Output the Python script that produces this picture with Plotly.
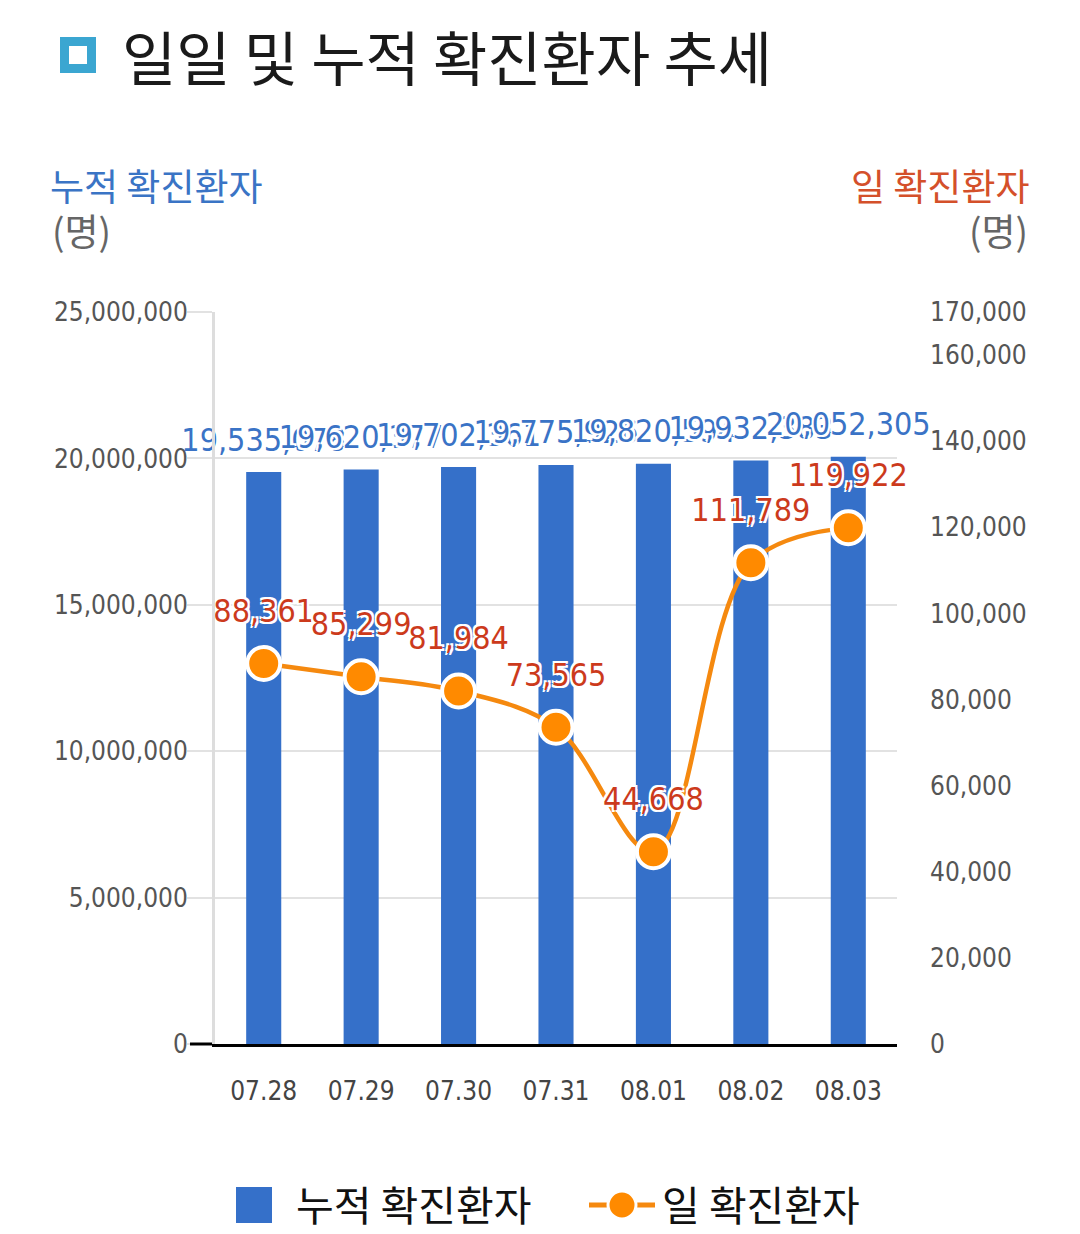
import plotly.graph_objects as go

# Data
dates = ["07.28", "07.29", "07.30", "07.31", "08.01", "08.02", "08.03"]
cumulative = [19535078, 19620377, 19702361, 19775926, 19820594, 19932383, 20052305]
daily = [88361, 85299, 81984, 73565, 44668, 111789, 119922]

left_ticks = [0, 5000000, 10000000, 15000000, 20000000, 25000000]
right_ticks = [0, 20000, 40000, 60000, 80000, 100000, 120000, 140000, 160000, 170000]

W, H = 1080, 1234
L, R, T, B = 215, 897, 312, 1044  # plot area in pixels

NUM_FONT = "DejaVu Sans Condensed, Noto Sans CJK KR, sans-serif"
KR_FONT = "Noto Sans CJK KR, sans-serif"
BAR_BLUE = "#3570c9"
LINE_ORANGE = "#f5890f"
LABEL_BLUE = "#3a73c6"
LABEL_RED = "#cc3a1c"
HALO = "-2px -2px 0 #fff, 2px -2px 0 #fff, -2px 2px 0 #fff, 2px 2px 0 #fff"


def px_x(x):
    return (x - L) / (R - L)


def px_y(y):
    return (B - y) / (B - T)


fig = go.Figure()

fig.add_trace(go.Bar(
    x=dates, y=cumulative, name="누적 확진환자",
    marker=dict(color=BAR_BLUE, line=dict(width=0)),
    width=0.36, yaxis="y", hoverinfo="skip",
))

# bar value labels (transparent marker sets the text offset)
fig.add_trace(go.Scatter(
    x=dates, y=cumulative, yaxis="y", mode="markers+text",
    text=[f"{v:,}" for v in cumulative], textposition="top center",
    marker=dict(size=20, color="rgba(0,0,0,0)"),
    textfont=dict(family=NUM_FONT, size=32, color=LABEL_BLUE, shadow=HALO),
    cliponaxis=False, hoverinfo="skip", showlegend=False,
))

fig.add_trace(go.Scatter(
    x=dates, y=daily, name="일 확진환자", yaxis="y2",
    mode="lines+markers",
    line=dict(color=LINE_ORANGE, width=4.5, shape="spline", smoothing=1),
    marker=dict(size=33, color="#ff8a00", line=dict(color="white", width=4)),
    cliponaxis=False, hoverinfo="skip",
))

# line value labels
fig.add_trace(go.Scatter(
    x=dates, y=daily, yaxis="y2", mode="markers+text",
    text=[f"{v:,}" for v in daily], textposition="top center",
    marker=dict(size=52, color="rgba(0,0,0,0)"),
    textfont=dict(family=NUM_FONT, size=32, color=LABEL_RED, shadow=HALO),
    cliponaxis=False, hoverinfo="skip", showlegend=False,
))

annotations = [
    dict(x=px_x(120), y=px_y(55), xref="paper", yref="paper", xanchor="left", yanchor="middle",
         text="일일 및 누적 확진환자 추세", showarrow=False,
         font=dict(family=KR_FONT, size=59, color="#1a1a1a")),
    dict(x=px_x(48), y=px_y(185), xref="paper", yref="paper", xanchor="left", yanchor="middle",
         text="누적 확진환자", showarrow=False,
         font=dict(family=KR_FONT, size=37, color="#3a74c5")),
    dict(x=px_x(50), y=px_y(230), xref="paper", yref="paper", xanchor="left", yanchor="middle",
         text="(명)", showarrow=False,
         font=dict(family=KR_FONT, size=37, color="#666666")),
    dict(x=px_x(1032), y=px_y(185), xref="paper", yref="paper", xanchor="right", yanchor="middle",
         text="일 확진환자", showarrow=False,
         font=dict(family=KR_FONT, size=37, color="#d4502a")),
    dict(x=px_x(1030), y=px_y(230), xref="paper", yref="paper", xanchor="right", yanchor="middle",
         text="(명)", showarrow=False,
         font=dict(family=KR_FONT, size=37, color="#666666")),
    # legend texts
    dict(x=px_x(294), y=px_y(1203), xref="paper", yref="paper", xanchor="left", yanchor="middle",
         text="누적 확진환자", showarrow=False,
         font=dict(family=KR_FONT, size=41, color="#111111")),
    dict(x=px_x(660), y=px_y(1203), xref="paper", yref="paper", xanchor="left", yanchor="middle",
         text="일 확진환자", showarrow=False,
         font=dict(family=KR_FONT, size=41, color="#111111")),
]

shapes = [
    # title icon
    dict(type="rect", xref="paper", yref="paper",
         x0=px_x(60), x1=px_x(96), y0=px_y(73), y1=px_y(37),
         fillcolor="#3ba6d1", line=dict(width=0)),
    dict(type="rect", xref="paper", yref="paper",
         x0=px_x(69), x1=px_x(87), y0=px_y(64), y1=px_y(46),
         fillcolor="white", line=dict(width=0)),
    # black baseline stub to the left of the axis
    dict(type="line", xref="paper", yref="paper",
         x0=px_x(190), x1=px_x(212), y0=0, y1=0,
         line=dict(color="black", width=3)),
    # legend: bar swatch
    dict(type="rect", xref="paper", yref="paper",
         x0=px_x(236), x1=px_x(272), y0=px_y(1223), y1=px_y(1187),
         fillcolor=BAR_BLUE, line=dict(width=0)),
    # legend: line swatch
    dict(type="line", xref="paper", yref="paper",
         x0=px_x(589), x1=px_x(655), y0=px_y(1205), y1=px_y(1205),
         line=dict(color=LINE_ORANGE, width=5)),
    dict(type="circle", xref="paper", yref="paper",
         x0=px_x(608), x1=px_x(636), y0=px_y(1219), y1=px_y(1191),
         fillcolor="#ff8a00", line=dict(color="white", width=3)),
]

fig.update_layout(
    width=W, height=H,
    margin=dict(l=L, r=W - R, t=T, b=H - B, pad=0),
    paper_bgcolor="white", plot_bgcolor="white",
    showlegend=False,
    xaxis=dict(
        type="category", range=[-0.5, 6.5],
        showline=True, linecolor="black", linewidth=3,
        showgrid=False, ticks="", ticklabelstandoff=22,
        tickfont=dict(family=NUM_FONT, size=26, color="#444444"),
    ),
    yaxis=dict(
        range=[0, 25000000], tickvals=left_ticks,
        tickformat=",d",
        showgrid=True, gridcolor="#e2e2e2", gridwidth=2,
        showline=True, linecolor="#dddddd", linewidth=3,
        ticks="outside", ticklen=25, tickcolor="#e2e2e2", tickwidth=2,
        ticklabelstandoff=-6,
        tickfont=dict(family=NUM_FONT, size=26, color="#555555"),
        zeroline=False,
    ),
    yaxis2=dict(
        range=[0, 170000], tickvals=right_ticks,
        tickformat=",d",
        overlaying="y", side="right",
        showgrid=False, showline=False, zeroline=False,
        ticks="", ticklabelstandoff=32,
        tickfont=dict(family=NUM_FONT, size=26, color="#555555"),
    ),
    annotations=annotations,
    shapes=shapes,
)

fig.write_html("out.html", config={"displayModeBar": False},
               post_script="document.body.style.margin='0';")
